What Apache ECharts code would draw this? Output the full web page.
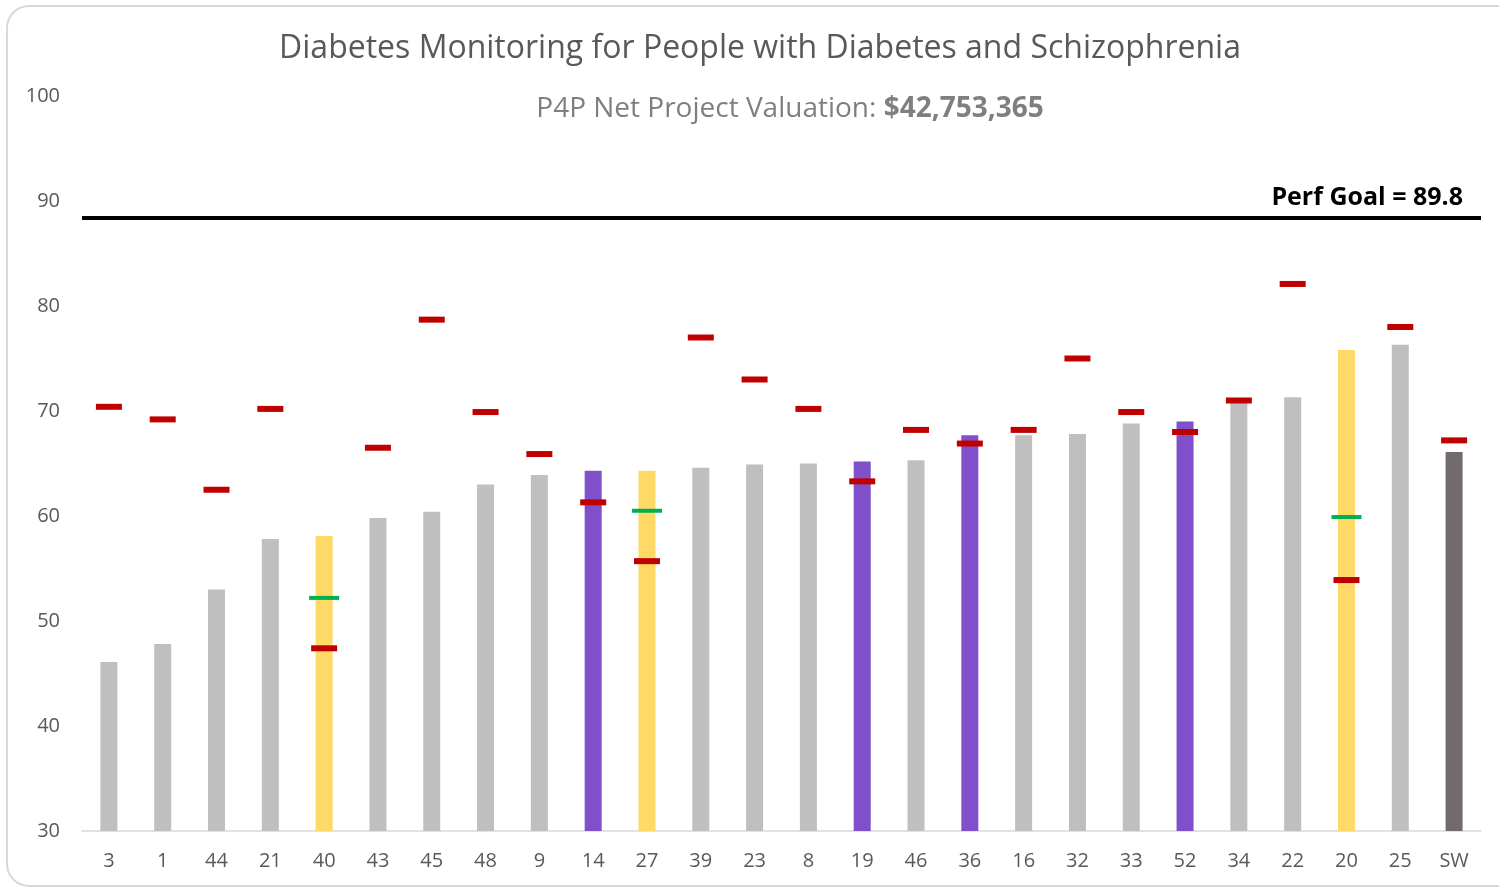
<!DOCTYPE html>
<html>
<head>
<meta charset="utf-8">
<title>Diabetes Monitoring</title>
<script src="https://cdn.jsdelivr.net/npm/echarts@6/dist/echarts.min.js"></script>
<style>
  html, body { margin: 0; padding: 0; background: #fff; }
  #chart { width: 1499px; height: 889px; }
</style>
</head>
<body>
<div id="chart"></div>
<script>
// sites, sorted by rate
const sites = ['3', '1', '44', '21', '40', '43', '45', '48', '9', '14', '27', '39', '23', '8', '19', '46', '36', '16', '32', '33', '52', '34', '22', '20', '25', 'SW']
const rates = [46.1, 47.8, 53.0, 57.8, 58.1, 59.8, 60.4, 63.0, 63.9, 64.3, 64.3, 64.6, 64.9, 65.0, 65.2, 65.3, 67.7, 67.7, 67.8, 68.8, 69.0, 70.8, 71.3, 75.8, 76.3, 66.1]
// red dash markers
const priorRates = [70.4, 69.2, 62.5, 70.2, 47.4, 66.5, 78.7, 69.9, 65.9, 61.3, 55.7, 77.0, 73.0, 70.2, 63.3, 68.2, 66.9, 68.2, 75.0, 69.9, 68.0, 71.0, 82.1, 53.9, 78.0, 67.2]
// green dash markers (only some sites)
const targetRates = [null, null, null, null, 52.2, null, null, null, null, null, 60.5, null, null, null, null, null, null, null, null, null, null, null, null, 59.9, null, null]
const yellowSites = ['40', '27', '20']
const purpleSites = ['14', '19', '36', '52']
const totalSite = 'SW'
const goalLabel = 'Perf Goal = 89.8'
const goalLinePos = 88.4
const yTicks = [30, 40, 50, 60, 70, 80, 90, 100]

const chart = echarts.init(document.getElementById('chart'))

const barColor = (name) => {
  if (name === totalSite) return '#716b6b'
  if (yellowSites.includes(name)) return '#ffd966'
  if (purpleSites.includes(name)) return '#7f50c9'
  return '#bfbfbf'
}

const font = '"Open Sans", "Noto Sans", sans-serif'

const option = {
  backgroundColor: '#fff',
  animation: false,
  textStyle: { fontFamily: font },
  graphic: [
    {
      type: 'rect',
      shape: { x: 7, y: 6, width: 1540, height: 880, r: 22 },
      style: { fill: 'none', stroke: '#d9d9d9', lineWidth: 2 },
      z: -10
    }
  ],
  title: [
    {
      text: 'Diabetes Monitoring for People with Diabetes and Schizophrenia',
      left: 755,
      textAlign: 'center',
      top: 28,
      textStyle: { fontSize: 32, fontWeight: 'normal', color: '#595959', fontFamily: font }
    },
    {
      text: '{n|P4P Net Project Valuation: }{b|$42,753,365}',
      left: 785,
      textAlign: 'center',
      top: 90,
      textStyle: {
        rich: {
          n: { fontSize: 28, color: '#7f7f7f', fontWeight: 'normal', fontFamily: font },
          b: { fontSize: 28, color: '#7f7f7f', fontWeight: 'bold', fontFamily: font }
        }
      }
    }
  ],
  grid: { left: 82, right: 18, top: 96, bottom: 58, containLabel: false },
  xAxis: {
    type: 'category',
    data: sites,
    axisTick: { show: false },
    axisLine: { lineStyle: { color: '#d9d9d9', width: 1.5 } },
    axisLabel: { color: '#595959', fontSize: 20, margin: 20, fontFamily: font }
  },
  yAxis: {
    type: 'value',
    min: yTicks[0],
    max: yTicks[yTicks.length - 1],
    interval: 10,
    splitLine: { show: false },
    axisLine: { show: false },
    axisTick: { show: false },
    axisLabel: { color: '#595959', fontSize: 20, margin: 22, fontFamily: font }
  },
  series: [
    {
      type: 'bar',
      barWidth: 17,
      data: rates.map((v, i) => ({ value: v, itemStyle: { color: barColor(sites[i]) } })),
      markLine: {
        silent: true,
        symbol: 'none',
        data: [{ yAxis: goalLinePos }],
        lineStyle: { color: '#000', width: 4, type: 'solid' },
        label: {
          show: true,
          position: 'insideEndTop',
          formatter: goalLabel,
          color: '#000',
          fontSize: 25,
          fontWeight: 'bold',
          distance: [18, 7],
          fontFamily: font
        }
      },
      z: 2
    },
    {
      type: 'scatter',
      data: priorRates,
      symbol: 'rect',
      symbolSize: [26, 6],
      itemStyle: { color: '#c00000', opacity: 1 },
      z: 4
    },
    {
      type: 'scatter',
      data: targetRates,
      symbol: 'rect',
      symbolSize: [30, 4],
      itemStyle: { color: '#00b050', opacity: 1 },
      z: 4
    }
  ]
}

chart.setOption(option)
</script>
</body>
</html>
